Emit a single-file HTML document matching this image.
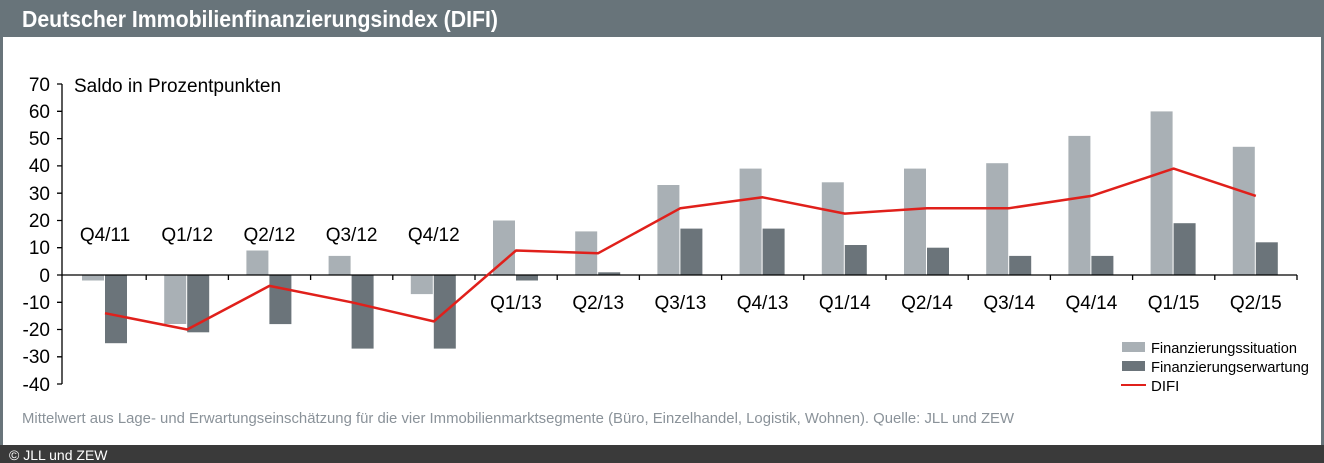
<!DOCTYPE html>
<html><head><meta charset="utf-8"><style>
html,body{margin:0;padding:0;background:#fff;}
svg{display:block;font-family:"Liberation Sans",Arial,sans-serif;}
</style></head><body>
<svg width="1324" height="463" viewBox="0 0 1324 463" xmlns="http://www.w3.org/2000/svg">
<rect x="0" y="0" width="1324" height="463" fill="#68747a"/>
<rect x="3" y="37" width="1318" height="408" fill="#fff"/>
<text x="22" y="27" font-size="23" font-weight="bold" fill="#fff" textLength="476" lengthAdjust="spacingAndGlyphs">Deutscher Immobilienfinanzierungsindex (DIFI)</text>
<rect x="0" y="445" width="1324" height="18" fill="#3a3a3a"/>
<text x="9" y="460" font-size="14" fill="#fff">© JLL und ZEW</text>

<g fill="#a9b0b5">
<rect x="82" y="275" width="22" height="5.5"/>
<rect x="164.2" y="275" width="22" height="49"/>
<rect x="246.4" y="250.5" width="22" height="24.5"/>
<rect x="328.6" y="255.9" width="22" height="19.1"/>
<rect x="410.8" y="275" width="22" height="19.1"/>
<rect x="493" y="220.5" width="22" height="54.5"/>
<rect x="575.2" y="231.4" width="22" height="43.6"/>
<rect x="657.4" y="185" width="22" height="90"/>
<rect x="739.6" y="168.6" width="22" height="106.4"/>
<rect x="821.8" y="182.3" width="22" height="92.7"/>
<rect x="904" y="168.6" width="22" height="106.4"/>
<rect x="986.2" y="163.2" width="22" height="111.8"/>
<rect x="1068.4" y="135.9" width="22" height="139.1"/>
<rect x="1150.6" y="111.4" width="22" height="163.6"/>
<rect x="1232.8" y="146.8" width="22" height="128.2"/>
</g>
<g fill="#6b747a">
<rect x="105" y="275" width="22" height="68.2"/>
<rect x="187.2" y="275" width="22" height="57.3"/>
<rect x="269.4" y="275" width="22" height="49.1"/>
<rect x="351.6" y="275" width="22" height="73.6"/>
<rect x="433.8" y="275" width="22" height="73.6"/>
<rect x="516" y="275" width="22" height="5.5"/>
<rect x="598.2" y="272.3" width="22" height="2.7"/>
<rect x="680.4" y="228.6" width="22" height="46.4"/>
<rect x="762.6" y="228.6" width="22" height="46.4"/>
<rect x="844.8" y="245" width="22" height="30"/>
<rect x="927" y="247.7" width="22" height="27.3"/>
<rect x="1009.2" y="255.9" width="22" height="19.1"/>
<rect x="1091.4" y="255.9" width="22" height="19.1"/>
<rect x="1173.6" y="223.2" width="22" height="51.8"/>
<rect x="1255.8" y="242.3" width="22" height="32.7"/>
</g>

<g stroke="#000" stroke-width="1.3" fill="none">
<line x1="62" y1="84" x2="62" y2="384"/>
<line x1="62" y1="275" x2="1297" y2="275"/>
<path d="M57 84H62M57 111.3H62M57 138.6H62M57 165.9H62M57 193.2H62M57 220.5H62M57 247.7H62M57 275H62M57 302.3H62M57 329.5H62M57 356.8H62M57 384H62"/>
<path d="M146.2 275v5M228.4 275v5M310.6 275v5M392.8 275v5M475 275v5M557.2 275v5M639.4 275v5M721.6 275v5M803.8 275v5M886 275v5M968.2 275v5M1050.4 275v5M1132.6 275v5M1214.8 275v5M1297 275v5"/>
</g>

<polyline fill="none" stroke="#e0201b" stroke-width="2.5" stroke-linejoin="round" points="105,313.2 187.2,329.5 269.4,285.9 351.6,302.3 433.8,321.4 516,250.5 598.2,253.2 680.4,208.2 762.6,197.3 844.8,213.6 927,208.2 1009.2,208.2 1091.4,195.9 1173.6,168.6 1255.8,195.9"/>

<g font-size="19" fill="#000" text-anchor="end">
<text x="50" y="91">70</text><text x="50" y="118">60</text><text x="50" y="145">50</text>
<text x="50" y="172">40</text><text x="50" y="200">30</text><text x="50" y="227">20</text>
<text x="50" y="254">10</text><text x="50" y="282">0</text><text x="50" y="309">-10</text>
<text x="50" y="336">-20</text><text x="50" y="363">-30</text><text x="50" y="391">-40</text>
</g>
<text x="74" y="92" font-size="19" fill="#000">Saldo in Prozentpunkten</text>

<g font-size="19" fill="#000" text-anchor="middle">
<text x="105" y="241">Q4/11</text><text x="187.2" y="241">Q1/12</text><text x="269.4" y="241">Q2/12</text>
<text x="351.6" y="241">Q3/12</text><text x="433.8" y="241">Q4/12</text>
<text x="516" y="309">Q1/13</text><text x="598.2" y="309">Q2/13</text><text x="680.4" y="309">Q3/13</text>
<text x="762.6" y="309">Q4/13</text><text x="844.8" y="309">Q1/14</text><text x="927" y="309">Q2/14</text>
<text x="1009.2" y="309">Q3/14</text><text x="1091.4" y="309">Q4/14</text><text x="1173.6" y="309">Q1/15</text>
<text x="1255.8" y="309">Q2/15</text>
</g>

<rect x="1122" y="342" width="23" height="10" fill="#a9b0b5"/>
<rect x="1122" y="361" width="23" height="10" fill="#6b747a"/>
<line x1="1121" y1="385" x2="1146" y2="385" stroke="#e0201b" stroke-width="2"/>
<g font-size="15" fill="#000">
<text x="1151" y="353" textLength="146" lengthAdjust="spacingAndGlyphs">Finanzierungssituation</text>
<text x="1151" y="372" textLength="158" lengthAdjust="spacingAndGlyphs">Finanzierungserwartung</text>
<text x="1151" y="391">DIFI</text>
</g>

<text x="22" y="423" font-size="15" fill="#8a9299" textLength="992" lengthAdjust="spacingAndGlyphs">Mittelwert aus Lage- und Erwartungseinschätzung für die vier Immobilienmarktsegmente (Büro, Einzelhandel, Logistik, Wohnen). Quelle: JLL und ZEW</text>
</svg>
</body></html>
